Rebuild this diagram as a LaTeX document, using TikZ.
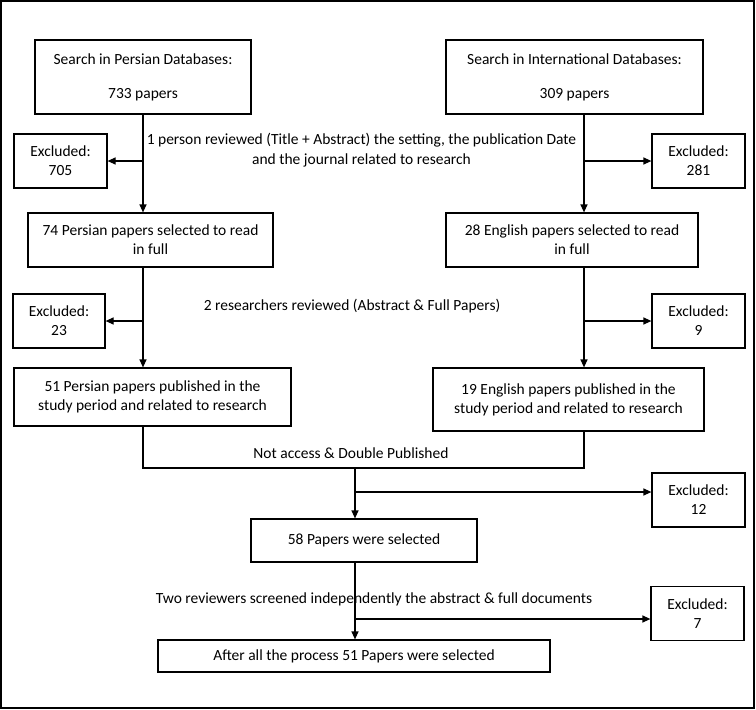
\documentclass[tikz,border=0pt]{standalone}
\usepackage{fontspec}
\setmainfont{Carlito}
\usepackage{tikz}
\usetikzlibrary{arrows.meta, positioning}

\begin{document}
\begin{tikzpicture}[x=1pt, y=-1pt, line width=1.2pt,
    box/.style={draw, rectangle, inner sep=0pt, align=center,
        font=\fontsize{15.5}{19}\selectfont},
    exbox/.style={box, minimum width=93pt, minimum height=54pt},
    note/.style={align=center, inner sep=0pt, font=\fontsize{15.5}{20}\selectfont},
    arr/.style={-{Triangle[length=8pt, width=7pt]}}]
    \useasboundingbox (0,0) rectangle (756,710);
    \draw (1,1) rectangle (754,708);

    % Columns of the arrows
    \coordinate (colL) at (143,0);
    \coordinate (colR) at (584,0);
    \coordinate (colM) at (355,0);

    % Nodes
    \node[box, minimum width=216pt, minimum height=74pt] (psearch) at (143,77)
        {Search in Persian Databases:\\[15pt]733 papers};
    \node[box, minimum width=257pt, minimum height=74pt] (isearch) at (574.5,77)
        {Search in International Databases:\\[15pt]309 papers};
    \node[exbox] (ex705) at (60.5,161) {Excluded:\\705};
    \node[exbox] (ex281) at (698.5,161) {Excluded:\\281};
    \node[box, minimum width=245pt, minimum height=54pt] (p74) at (150.5,240)
        {74 Persian papers selected to read\\in full};
    \node[box, minimum width=252pt, minimum height=54pt] (e28) at (572,240)
        {28 English papers selected to read\\in full};
    \node[exbox, minimum width=92pt] (ex23) at (59,321) {Excluded:\\23};
    \node[exbox] (ex9) at (698.5,321) {Excluded:\\9};
    \node[box, minimum width=277pt, minimum height=58pt] (p51) at (152.5,397)
        {51 Persian papers published in the\\study period and related to research};
    \node[box, minimum width=271pt, minimum height=63pt] (e19) at (568.5,399.5)
        {19 English papers published in the\\study period and related to research};
    \node[exbox] (ex12) at (698.5,500) {Excluded:\\12};
    \node[box, minimum width=226pt, minimum height=43pt] (sel58) at (364,540.5)
        {58 Papers were selected};
    \node[exbox] (ex7) at (697.5,613.5) {Excluded:\\7};
    \node[box, minimum width=392pt, minimum height=32pt] (final) at (354,656)
        {After all the process 51 Papers were selected};

    % Labels
    \node[note] (lab1) at (361.5,150)
        {1 person reviewed (Title + Abstract) the setting, the publication Date\\and the journal related to research};
    \node[note] (lab2) at (352,306) {2 researchers reviewed (Abstract \& Full Papers)};
    \node[note] (lab3) at (351,453) {Not access \& Double Published};
    \node[note] (lab4) at (374,599)
        {Two reviewers screened independently the abstract \& full documents};

    % Edges
    \draw[arr] (colL |- psearch.south) -- (colL |- p74.north);
    \draw[arr] (colL |- ex705.east) -- (ex705.east);
    \draw[arr] (colR |- isearch.south) -- (colR |- e28.north);
    \draw[arr] (colR |- ex281.west) -- (ex281.west);
    \draw[arr] (colL |- p74.south) -- (colL |- p51.north);
    \draw[arr] (colL |- ex23.east) -- (ex23.east);
    \draw[arr] (colR |- e28.south) -- (colR |- e19.north);
    \draw[arr] (colR |- ex9.west) -- (ex9.west);
    \coordinate (merge) at (355,468);
    \coordinate (b12) at (355,492);
    \coordinate (b7) at (355,619);
    \draw (colL |- p51.south) |- (merge) -| (colR |- e19.south);
    \draw[arr] (merge) -- (colM |- sel58.north);
    \draw[arr] (b12) -- (b12 -| ex12.west);
    \draw[arr] (colM |- sel58.south) -- (colM |- final.north);
    \draw[arr] (b7) -- (b7 -| ex7.west);
\end{tikzpicture}
\end{document}
